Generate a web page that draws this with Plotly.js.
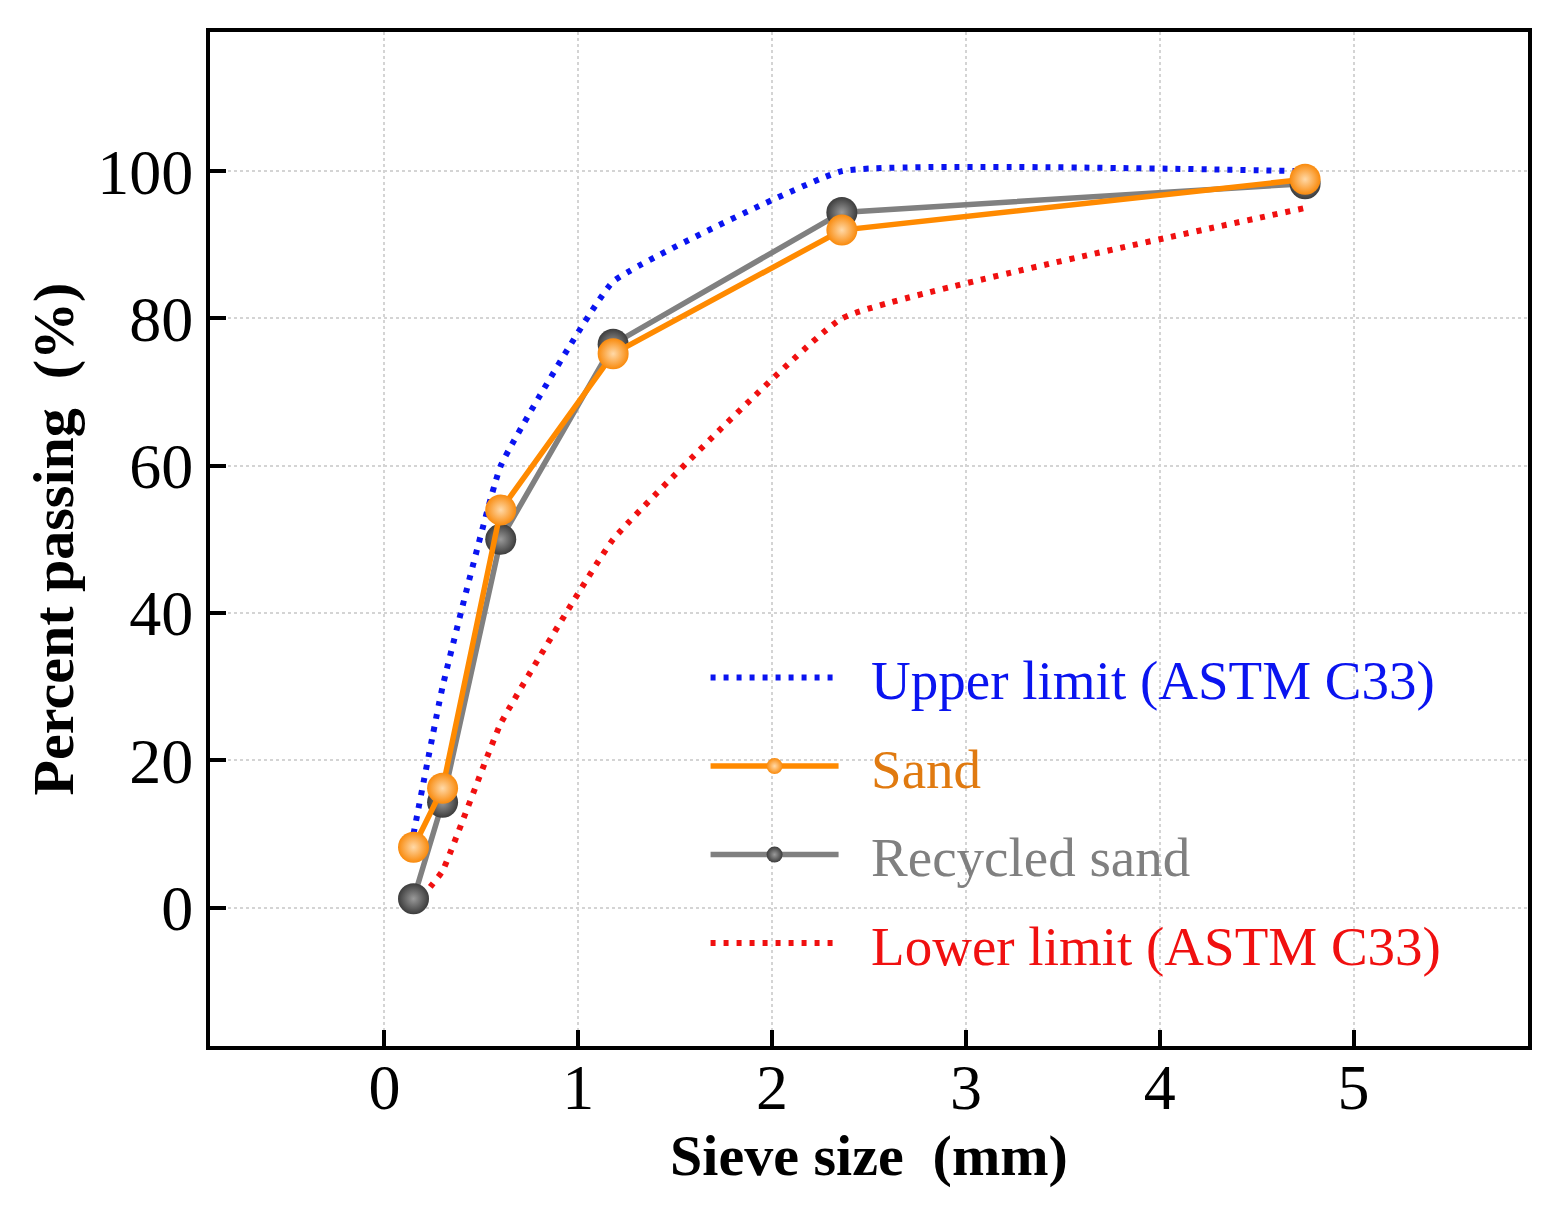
<!DOCTYPE html>
<html>
<head>
<meta charset="utf-8">
<script src="https://cdn.plot.ly/plotly-3.0.1.min.js"></script>
<style>
  html, body { margin: 0; padding: 0; background: #ffffff; }
  #chart { width: 1560px; height: 1214px; }
</style>
</head>
<body>
<div id="chart"></div>
<script>
// sieve sizes (mm) and percent passing
const sieveSizes = [0.15, 0.3, 0.6, 1.18, 2.36, 4.75];
const upperLimit = [10, 30, 60, 85, 100, 100];
const lowerLimit = [0, 5, 25, 50, 80, 95];
const sand = [8.2, 16.2, 54, 75.2, 92, 98.9];
const recycledSand = [1.2, 14.3, 50, 76.5, 94.4, 98.3];

const xTicks = [0, 1, 2, 3, 4, 5];
const yTicks = [0, 20, 40, 60, 80, 100];

const serif = "Liberation Serif, Times New Roman, serif";
const pad = "&nbsp;&nbsp;";

function limitTrace(y, name, color, rank) {
  return {
    type: "scatter",
    mode: "lines",
    x: sieveSizes,
    y,
    name: `<span style="color:${color}">${pad}${name}</span>`,
    legendrank: rank,
    legendgroup: "g" + rank,
    line: { color, width: 6, dash: "5px,8px", shape: "spline", smoothing: 0.3 },
    hoverinfo: "skip",
  };
}

function dataTrace(y, name, lineColor, markerColor, highlight, textColor, rank) {
  return {
    type: "scatter",
    mode: "lines+markers",
    x: sieveSizes,
    y,
    name: `<span style="color:${textColor}">${pad}${name}</span>`,
    legendrank: rank,
    legendgroup: "g" + rank,
    line: { color: lineColor, width: 5.5 },
    marker: {
      size: 31,
      color: markerColor,
      gradient: { type: "radial", color: highlight },
      line: { width: 0 },
    },
  };
}

const traces = [
  limitTrace(upperLimit, "Upper limit (ASTM C33)", "#0a14f0", 1),
  limitTrace(lowerLimit, "Lower limit (ASTM C33)", "#f01010", 4),
  dataTrace(recycledSand, "Recycled sand", "#808080", "#3c3c3c", "#9a9a9a", "#808080", 3),
  dataTrace(sand, "Sand", "#ff8a00", "#f98a0c", "#ffd9a8", "#e07a10", 2),
];

const layout = {
  width: 1560,
  height: 1214,
  paper_bgcolor: "#ffffff",
  plot_bgcolor: "#ffffff",
  margin: { l: 210, r: 32, t: 32, b: 168 },
  font: { family: serif, color: "#000000" },
  showlegend: true,
  legend: {
    x: 0.376, y: 0.405, xanchor: "left", yanchor: "top",
    bgcolor: "rgba(0,0,0,0)",
    font: { family: serif, size: 55 },
    itemwidth: 128,
    tracegroupgap: 14,
  },
  xaxis: {
    range: [-0.9, 5.9],
    tickvals: xTicks,
    ticks: "inside",
    ticklen: 16,
    tickwidth: 4,
    tickcolor: "#000",
    tickfont: { family: serif, size: 64 },
    ticklabelstandoff: -18,
    showgrid: true,
    gridcolor: "#d4d4d4",
    gridwidth: 2,
    griddash: "dot",
    zeroline: false,
    showline: true,
    linecolor: "#000",
    linewidth: 4,
    mirror: true,
    title: {
      text: "<b>Sieve size  (mm)</b>",
      font: { family: serif, size: 58 },
      standoff: 6,
    },
  },
  yaxis: {
    range: [-18.8, 118.9],
    tickvals: yTicks,
    ticks: "inside",
    ticklen: 16,
    tickwidth: 4,
    tickcolor: "#000",
    tickfont: { family: serif, size: 64 },
    showgrid: true,
    gridcolor: "#d4d4d4",
    gridwidth: 2,
    griddash: "dot",
    zeroline: false,
    showline: true,
    linecolor: "#000",
    linewidth: 4,
    mirror: true,
    title: {
      text: "<b>Percent passing  (%)</b>",
      font: { family: serif, size: 58 },
      standoff: 6,
    },
  },
};

Plotly.newPlot("chart", traces, layout, { staticPlot: true, displayModeBar: false });
</script>
</body>
</html>
